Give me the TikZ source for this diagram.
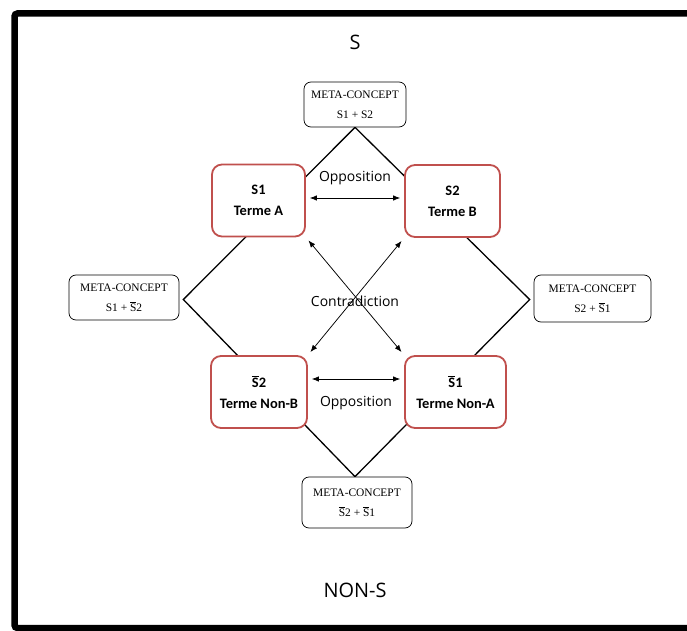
\documentclass[tikz,border=0pt]{standalone}
\usepackage{fontspec}
\usepackage{tikz}
\usetikzlibrary{arrows.meta, positioning, backgrounds}
\setmainfont{Liberation Serif}
\newfontfamily\labelfont{Open Sans}
\newfontfamily\termfont{Carlito}
\definecolor{TermRed}{HTML}{C0504D}
\newcommand{\negS}{$\overline{\mbox{S}}$}

\begin{document}
\begin{tikzpicture}[x=1bp, y=-1bp,
    meta/.style={
      rectangle, rounded corners=7bp, draw=black, line width=0.7bp, fill=white,
      inner sep=0pt, align=center, font=\fontsize{11.5}{20}\selectfont
    },
    term/.style={
      rectangle, rounded corners=10bp, draw=TermRed, line width=1.8bp, fill=white,
      inner sep=0pt, minimum height=72bp, align=center,
      font=\termfont\bfseries\fontsize{14.5}{21}\selectfont
    },
    opp/.style={{Latex[length=7bp,width=5.5bp]}-{Latex[length=7bp,width=5.5bp]},
      line width=0.75bp, shorten <=4bp, shorten >=4bp},
    lbl/.style={font=\labelfont\fontsize{14}{16}\selectfont},
    big/.style={font=\labelfont\fontsize{20}{24}\selectfont},
    square/.style={line width=1.3bp}
  ]
    \useasboundingbox (0,0) rectangle (687,631);

    % frame
    \draw[line width=6.5bp, rounded corners=3bp] (692,13.5) -- (14.5,13.5) -- (14.5,628) -- (692,628);

    \node[big] (ttl) at (355,42) {S};
    \node[big] (nonS) at (355,590) {NON-S};

    % meta-concepts
    \node[meta, minimum width=102bp, minimum height=45bp] (mtop) at (355,104.5) {META-CONCEPT\\S1 + S2};
    \node[meta, minimum width=110bp, minimum height=45bp] (mleft) at (124,297.5) {META-CONCEPT\\S1 + \negS2};
    \node[meta, minimum width=117bp, minimum height=47bp] (mright) at (592.5,298.5) {META-CONCEPT\\S2 + \negS1};
    \node[meta, minimum width=110bp, minimum height=51bp] (mbot) at (357,502.5) {META-CONCEPT\\\negS2 + \negS1};

    % terms
    \node[term, minimum width=93bp] (s1) at (258.5,200.5) {S1\\Terme A};
    \node[term, minimum width=95bp] (s2) at (452.5,201) {S2\\Terme B};
    \node[term, minimum width=96bp] (ns2) at (259,392) {\negS2\\Terme Non-B};
    \node[term, minimum width=101bp] (ns1) at (455.5,392) {\negS1\\Terme Non-A};

    \coordinate (dtop) at (mtop.south);
    \coordinate (dleft) at ([xshift=4bp, yshift=-2bp]mleft.east);
    \coordinate (dbot) at ([xshift=-2bp]mbot.north);
    \coordinate (dright) at ([xshift=-4bp, yshift=-1bp]mright.west);

    \begin{scope}[on background layer]
      \draw[square] (dtop) -- (dleft) -- (dbot) -- (dright) -- cycle;
    \end{scope}

    \draw[opp] ([yshift=2.5bp]s1.east) -- node[lbl, above=9.5bp]{Opposition} ([yshift=3bp]s2.west);
    \draw[opp] ([yshift=13bp]ns2.east) -- node[lbl, below=14bp]{Opposition} ([yshift=13bp]ns1.west);
    \draw[opp] (s1.south east) -- (ns1.north west);
    \draw[opp] (s2.south west) -- (ns2.north east);

    \node[lbl] (contra) at (355,301) {Contradiction};
  \end{tikzpicture}
\end{document}
